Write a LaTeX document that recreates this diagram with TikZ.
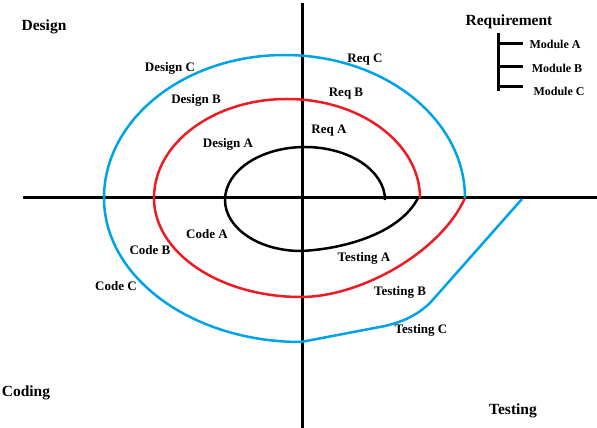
\documentclass[tikz,border=0pt]{standalone}
\usepackage{fontspec}
\setmainfont{Liberation Serif}
\definecolor{pblue}{RGB}{0,162,232}
\definecolor{pred}{RGB}{237,28,36}
\begin{document}
\begin{tikzpicture}[x=1pt,y=1pt,
  lbl/.style={font=\fontsize{13}{15}\selectfont\bfseries, inner sep=0pt},
  mlbl/.style={font=\fontsize{12}{14}\selectfont\bfseries, inner sep=0pt},
  hdr/.style={font=\fontsize{15.5}{17}\selectfont\bfseries, inner sep=0pt},
  axis/.style={line width=3pt},
  spiral/.style={line width=2.5pt},
  tree/.style={line width=3pt}]
\useasboundingbox (0,0) rectangle (597,428);
% axes
\coordinate (xl) at (23,230);
\coordinate (xr) at (597,230);
\coordinate (yt) at (302,425);
\coordinate (yb) at (302,0);
\draw[axis] (xl) -- (xr);
\draw[axis] (yt) -- (yb);
% black loop
\coordinate (bs) at (385,228);
\coordinate (be) at (418,230);
\draw[spiral] (bs) arc[start angle=0,end angle=180,x radius=80,y radius=53]
  arc[start angle=180,end angle=270,x radius=76,y radius=51]
  .. controls (345,179) and (400,195) .. (be);
% red loop
\coordinate (rs) at (420,230);
\coordinate (re) at (465,230);
\draw[spiral,pred] (rs) arc[start angle=0,end angle=180,x radius=133,y radius=99]
  arc[start angle=180,end angle=270,x radius=147,y radius=99]
  .. controls (360,131) and (440,175) .. (re);
% blue loop
\coordinate (cs) at (465,230);
\coordinate (ce) at (522,229);
\draw[spiral,pblue] (cs) arc[start angle=0,end angle=180,x radius=180.5,y radius=143]
  arc[start angle=180,end angle=270,x radius=197,y radius=144]
  -- (385,102) .. controls (405,107) and (417,113) .. (430,125) -- (ce);
% headers
\node[hdr] (design) at (44,401) {Design};
\node[hdr] (coding) at (26,35) {Coding};
\node[hdr] (testing) at (513,17) {Testing};
\node[hdr] (req) at (509,406) {Requirement};
% module tree
\coordinate (t1) at (498,395);
\coordinate (t2) at (498,337);
\coordinate (h1) at (498,384);
\coordinate (h2) at (498,361);
\coordinate (h3) at (498,341);
\coordinate (h1e) at (523,384);
\coordinate (h2e) at (523,361);
\coordinate (h3e) at (523,341);
\draw[tree] (t1) -- (t2);
\draw[tree] (h1) -- (h1e);
\draw[tree] (h2) -- (h2e);
\draw[tree] (h3) -- (h3e);
\node[mlbl] (ma) at (555,384) {Module A};
\node[mlbl] (mb) at (557,360) {Module B};
\node[mlbl] (mc) at (559,337) {Module C};
% labels
\node[lbl] (dc) at (170,360) {Design C};
\node[lbl] (db) at (196,328) {Design B};
\node[lbl] (da) at (228,284) {Design A};
\node[lbl] (rc) at (365,368) {Req C};
\node[lbl] (rb) at (346,334) {Req B};
\node[lbl] (ra) at (329,297) {Req A};
\node[lbl] (ca) at (207,194) {Code A};
\node[lbl] (cb) at (150,178) {Code B};
\node[lbl] (cc) at (116,142) {Code C};
\node[lbl] (ta) at (364,170) {Testing A};
\node[lbl] (tb) at (400,136) {Testing B};
\node[lbl] (tc) at (421,98) {Testing C};
\end{tikzpicture}
\end{document}
